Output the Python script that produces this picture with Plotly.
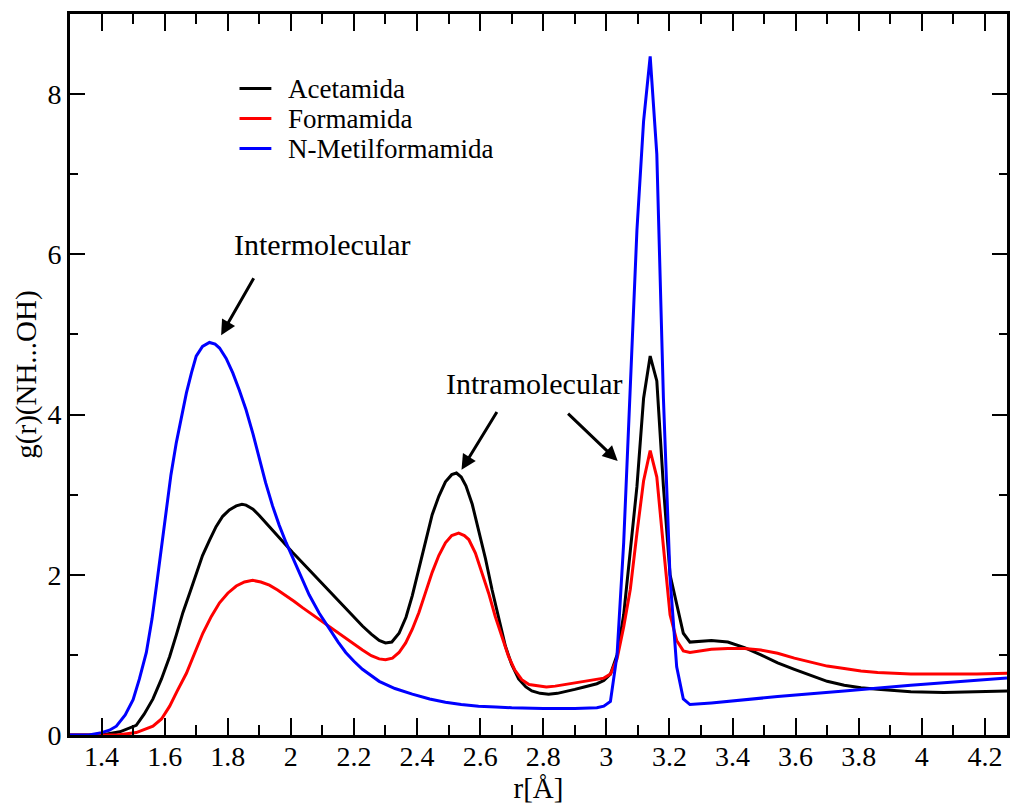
import plotly.graph_objects as go

# ---------------- data ----------------
acet_x = [1.30, 1.40, 1.458, 1.51, 1.535, 1.563, 1.59, 1.616, 1.637, 1.658, 1.68, 1.70, 1.72, 1.742,
          1.763, 1.784, 1.805, 1.827, 1.845, 1.858, 1.88, 1.90, 1.92, 1.942, 1.963, 1.985, 2.005, 2.027,
          2.058, 2.09, 2.12, 2.15, 2.174, 2.20, 2.227, 2.255, 2.28, 2.30, 2.32, 2.343, 2.365, 2.385,
          2.405, 2.427, 2.448, 2.469, 2.49, 2.51, 2.525, 2.54, 2.555, 2.575, 2.595, 2.617, 2.638, 2.66,
          2.68, 2.70, 2.722, 2.745, 2.764, 2.79, 2.817, 2.845, 2.87, 2.90, 2.93, 2.95, 2.97, 2.992,
          3.013, 3.034, 3.055, 3.076, 3.097, 3.118, 3.139, 3.160, 3.181, 3.202, 3.223, 3.244, 3.265,
          3.30, 3.333, 3.385, 3.438, 3.49, 3.543, 3.596, 3.649, 3.70, 3.754, 3.807, 3.86, 3.965, 4.07,
          4.175, 4.27]
acet_y = [0.0, 0.0, 0.04, 0.12, 0.26, 0.45, 0.70, 0.98, 1.25, 1.53, 1.78, 2.02, 2.24, 2.43,
          2.60, 2.73, 2.81, 2.86, 2.88, 2.87, 2.82, 2.74, 2.65, 2.55, 2.46, 2.37, 2.28, 2.19,
          2.06, 1.93, 1.80, 1.67, 1.57, 1.46, 1.36, 1.26, 1.18, 1.15, 1.16, 1.27, 1.47, 1.74,
          2.07, 2.44, 2.75, 2.98, 3.16, 3.25, 3.27, 3.22, 3.11, 2.88, 2.57, 2.20, 1.81, 1.45,
          1.11, 0.88, 0.70, 0.60, 0.55, 0.52, 0.51, 0.52, 0.54, 0.57, 0.60, 0.62, 0.64, 0.68,
          0.76, 1.00, 1.50, 2.30, 3.10, 4.20, 4.73, 4.42, 3.10, 2.00, 1.62, 1.27, 1.16,
          1.17, 1.18, 1.16, 1.09, 1.00, 0.90, 0.82, 0.74, 0.67, 0.62, 0.59, 0.57, 0.54, 0.53,
          0.54, 0.55]

form_x = [1.30, 1.45, 1.51, 1.563, 1.59, 1.616, 1.64, 1.669, 1.695, 1.721, 1.748, 1.774, 1.80, 1.827,
          1.853, 1.879, 1.905, 1.932, 1.958, 1.985, 2.01, 2.037, 2.069, 2.10, 2.14, 2.174, 2.20, 2.227,
          2.255, 2.28, 2.30, 2.322, 2.343, 2.364, 2.385, 2.406, 2.427, 2.448, 2.469, 2.49, 2.51, 2.532,
          2.55, 2.564, 2.585, 2.606, 2.627, 2.648, 2.67, 2.69, 2.71, 2.732, 2.755, 2.785, 2.81, 2.838,
          2.87, 2.90, 2.93, 2.95, 2.97, 2.992, 3.013, 3.034, 3.055, 3.076, 3.097, 3.118, 3.139, 3.160,
          3.181, 3.202, 3.223, 3.244, 3.265, 3.30, 3.333, 3.385, 3.438, 3.49, 3.543, 3.596, 3.649, 3.70,
          3.754, 3.807, 3.86, 3.965, 4.07, 4.175, 4.27]
form_y = [0.0, 0.0, 0.03, 0.11, 0.20, 0.36, 0.55, 0.77, 1.02, 1.27, 1.48, 1.65, 1.77, 1.86,
          1.91, 1.93, 1.91, 1.87, 1.81, 1.74, 1.67, 1.59, 1.50, 1.41, 1.30, 1.21, 1.14, 1.06,
          0.99, 0.95, 0.94, 0.96, 1.03, 1.15, 1.32, 1.53, 1.78, 2.03, 2.24, 2.40, 2.49, 2.52,
          2.49, 2.44, 2.27, 2.03, 1.77, 1.48, 1.22, 0.98, 0.81, 0.69, 0.63, 0.61, 0.60, 0.61,
          0.63, 0.65, 0.67, 0.68, 0.69, 0.71, 0.76, 0.95, 1.35, 1.82, 2.52, 3.17, 3.55, 3.22,
          2.35, 1.50, 1.18, 1.05, 1.03, 1.05, 1.07, 1.08, 1.08, 1.06, 1.02, 0.96, 0.91, 0.86,
          0.83, 0.80, 0.78, 0.76, 0.76, 0.76, 0.77]

nmf_x = [1.30, 1.36, 1.40, 1.425, 1.447, 1.475, 1.50, 1.52, 1.542, 1.56, 1.574, 1.59, 1.605, 1.62,
         1.637, 1.655, 1.669, 1.685, 1.70, 1.72, 1.742, 1.76, 1.774, 1.795, 1.816, 1.837, 1.858, 1.88,
         1.90, 1.92, 1.942, 1.963, 1.985, 2.005, 2.027, 2.058, 2.09, 2.122, 2.15, 2.174, 2.20, 2.227,
         2.255, 2.28, 2.33, 2.385, 2.44, 2.49, 2.54, 2.595, 2.65, 2.70, 2.80, 2.90, 2.97, 2.992,
         3.013, 3.034, 3.055, 3.076, 3.097, 3.118, 3.139, 3.160, 3.181, 3.202, 3.223, 3.244, 3.265,
         3.333, 3.543, 3.754, 3.965, 4.27]
nmf_y = [0.0, 0.0, 0.03, 0.06, 0.11, 0.25, 0.44, 0.70, 1.03, 1.45, 1.86, 2.35, 2.86, 3.25,
         3.65, 4.00, 4.27, 4.52, 4.73, 4.85, 4.90, 4.88, 4.83, 4.70, 4.52, 4.30, 4.06, 3.76,
         3.44, 3.15, 2.86, 2.62, 2.40, 2.22, 2.02, 1.75, 1.52, 1.32, 1.16, 1.03, 0.92, 0.82,
         0.74, 0.67, 0.58, 0.51, 0.45, 0.41, 0.38, 0.36, 0.35, 0.34, 0.33, 0.33, 0.34, 0.36,
         0.42, 1.00, 2.40, 4.30, 6.30, 7.66, 8.47, 7.25, 4.20, 1.96, 0.85, 0.45, 0.38,
         0.40, 0.48, 0.55, 0.62, 0.71]

series_names = ["Acetamida", "Formamida", "N-Metilformamida"]
series_colors = ["#000000", "#ff0000", "#0000ff"]

x_tick_vals = [1.4, 1.6, 1.8, 2.0, 2.2, 2.4, 2.6, 2.8, 3.0, 3.2, 3.4, 3.6, 3.8, 4.0, 4.2]
x_tick_text = ["1.4", "1.6", "1.8", "2", "2.2", "2.4", "2.6", "2.8", "3", "3.2", "3.4", "3.6", "3.8", "4", "4.2"]
y_tick_vals = [0, 2, 4, 6, 8]
y_tick_text = ["0", "2", "4", "6", "8"]

FONT = "Liberation Serif, Times New Roman, serif"

fig = go.Figure()
for xs, ys, name, col in zip([acet_x, form_x, nmf_x], [acet_y, form_y, nmf_y], series_names, series_colors):
    fig.add_trace(go.Scatter(x=xs, y=ys, mode="lines", name=name,
                             line=dict(color=col, width=3), showlegend=False))

axis_common = dict(showline=True, linecolor="black", linewidth=3, mirror="allticks",
                   ticks="inside", tickcolor="black", tickwidth=1.5, showgrid=False, zeroline=False,
                   tickfont=dict(family=FONT, size=28, color="black"))

fig.update_xaxes(range=[1.3, 4.27], tickmode="array", tickvals=x_tick_vals, ticktext=x_tick_text,
                 ticklen=17, ticklabelstandoff=-6,
                 minor=dict(ticks="inside", ticklen=10, tickwidth=1.5, tickcolor="black",
                            tickmode="linear", tick0=0, dtick=0.1),
                 title=dict(text="r[Å]", font=dict(family=FONT, size=29, color="black"), standoff=4),
                 **axis_common)
fig.update_yaxes(range=[0, 9], tickmode="array", tickvals=y_tick_vals, ticktext=y_tick_text,
                 ticklen=15, minor=dict(ticks="inside", ticklen=8, tickwidth=1.5, tickcolor="black",
                                        tickmode="linear", tick0=0, dtick=1),
                 title=dict(text="g(r)(NH...OH)", font=dict(family=FONT, size=29, color="black"), standoff=3),
                 **axis_common)

# manual legend (line samples + labels), paper coordinates
legend_y = [0.8966, 0.8550, 0.8134]
for ly, name, col in zip(legend_y, series_names, series_colors):
    fig.add_shape(type="line", xref="paper", yref="paper", x0=0.1809, x1=0.2149, y0=ly, y1=ly,
                  line=dict(color=col, width=3))
    fig.add_annotation(xref="paper", yref="paper", x=0.231, y=ly, text=name, showarrow=False,
                       xanchor="left", yanchor="middle", height=26,
                       font=dict(family=FONT, size=27, color="black"))

# labels
fig.add_annotation(xref="paper", yref="paper", x=0.2697, y=0.6803, text="Intermolecular", showarrow=False,
                   xanchor="center", yanchor="middle", font=dict(family=FONT, size=30, color="black"))
fig.add_annotation(xref="paper", yref="paper", x=0.4957, y=0.4875, text="Intramolecular", showarrow=False,
                   xanchor="center", yanchor="middle", font=dict(family=FONT, size=30, color="black"))

# arrows (tip x,y ; tail ax,ay in data units)
arrows = [((1.779, 4.99), (1.885, 5.72)),
          ((2.541, 3.31), (2.656, 4.05)),
          ((3.036, 3.42), (2.874, 4.03))]
for (tx, ty), (ax, ay) in arrows:
    fig.add_annotation(x=tx, y=ty, ax=ax, ay=ay, xref="x", yref="y", axref="x", ayref="y",
                       text="", showarrow=True, arrowhead=2, arrowsize=1, arrowwidth=3,
                       arrowcolor="black", standoff=0)

fig.update_layout(width=1010, height=804, margin=dict(l=70, r=0, t=14, b=69),
                  paper_bgcolor="white", plot_bgcolor="white",
                  font=dict(family=FONT, color="black"))

fig.write_html("out.html")
